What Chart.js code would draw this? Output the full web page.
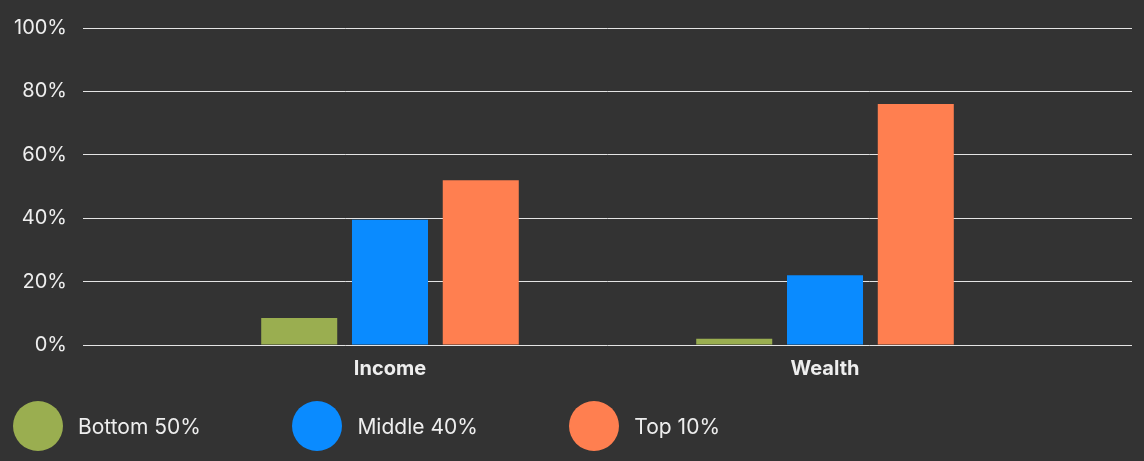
<!DOCTYPE html>
<html>
<head>
<meta charset="utf-8">
<script src="https://cdn.jsdelivr.net/npm/chart.js@4/dist/chart.umd.min.js"></script>
<style>
    html, body { margin: 0; padding: 0; background: #333333; }
    #wrap { position: relative; width: 1144px; height: 461px; }
    #shareChart { display: block; }
    #legend {
        position: absolute; left: 13px; top: 401px;
        display: flex; align-items: center;
        font-family: Inter, sans-serif; font-size: 21px; color: #eeeeee;
    }
    #legend .item { display: flex; align-items: center; margin-right: 91.5px; }
    #legend .dot { width: 50px; height: 50px; border-radius: 50%; margin-right: 15px; }
</style>
</head>
<body>
<div id="wrap">
    <canvas id="shareChart" width="1144" height="461"></canvas>
    <div id="legend"></div>
</div>
<script>
// data
var categories = ['Income', 'Wealth'];
var seriesNames = ['Bottom 50%', 'Middle 40%', 'Top 10%'];
var bottom50 = [8.5, 2];
var middle40 = [39.5, 22];
var top10 = [52, 76];
var yTickValues = [0, 20, 40, 60, 80, 100];

var seriesValues = [bottom50, middle40, top10];
var seriesColors = ['#9aae50', '#0a8bff', '#ff7f50'];

var textColor = '#eeeeee';
var gridColor = '#e4e4e4';

// category i sits at x = i + 1 on a linear axis
var datasets = seriesNames.map(function (name, s) {
    return {
        label: name,
        backgroundColor: seriesColors[s],
        borderWidth: 0,
        categoryPercentage: 0.626,
        barPercentage: 0.8375,
        data: categories.map(function (cat, i) {
            return { x: i + 1, y: seriesValues[s][i] };
        })
    };
});

// html legend built from the chart's own legend items
var htmlLegend = {
    id: 'htmlLegend',
    afterUpdate: function (chart) {
        var box = document.getElementById('legend');
        box.innerHTML = '';
        var items = chart.options.plugins.legend.labels.generateLabels(chart);
        items.forEach(function (item) {
            var el = document.createElement('div');
            el.className = 'item';
            var dot = document.createElement('span');
            dot.className = 'dot';
            dot.style.background = item.fillStyle;
            var txt = document.createElement('span');
            txt.textContent = item.text;
            el.appendChild(dot);
            el.appendChild(txt);
            box.appendChild(el);
        });
    }
};

var chartCanvas = document.getElementById('shareChart').getContext('2d');

var shareChart = new Chart(chartCanvas, {
    type: 'bar',
    data: { datasets: datasets },
    plugins: [htmlLegend],
    options: {
        responsive: false,
        animation: false,
        devicePixelRatio: 1,
        layout: {
            padding: { left: 0, right: 12, top: 25, bottom: 76 }
        },
        plugins: {
            tooltip: { enabled: false },
            legend: { display: false }
        },
        scales: {
            x: {
                type: 'linear',
                offset: false,
                min: 0.2943,
                max: 2.7057,
                grid: { display: false },
                border: { display: false },
                afterBuildTicks: function (scale) {
                    scale.ticks = categories.map(function (c, i) { return { value: i + 1 }; });
                },
                afterFit: function (scale) {
                    scale.height = 40;
                },
                ticks: {
                    padding: 4,
                    color: textColor,
                    font: { family: 'Inter', size: 20, weight: 'bold' },
                    callback: function (value) {
                        return categories[value - 1];
                    }
                }
            },
            y: {
                min: yTickValues[0],
                max: yTickValues[yTickValues.length - 1],
                grid: { color: gridColor, drawTicks: false },
                border: { display: false },
                afterFit: function (scale) {
                    scale.width = 83;
                },
                ticks: {
                    stepSize: yTickValues[1] - yTickValues[0],
                    padding: 16,
                    color: textColor,
                    font: { family: 'Inter', size: 20 },
                    callback: function (value) {
                        return value + '%';
                    }
                }
            }
        }
    }
});
</script>
</body>
</html>
